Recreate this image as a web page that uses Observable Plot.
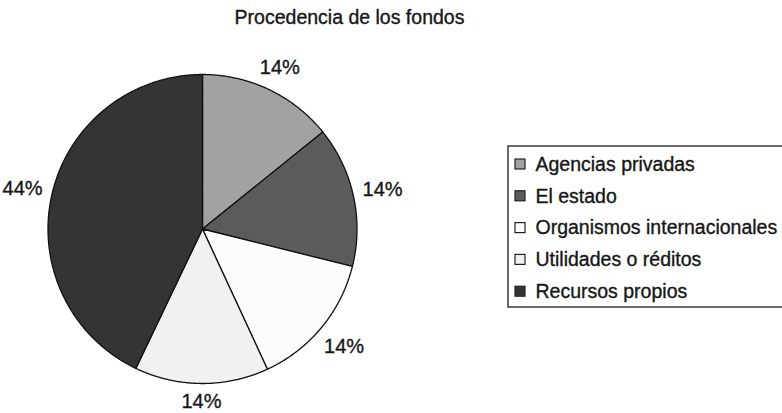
<!DOCTYPE html>
<html>
<head>
<meta charset="utf-8">
<script src="https://cdn.jsdelivr.net/npm/d3@7"></script>
<script src="https://cdn.jsdelivr.net/npm/@observablehq/plot@0.6"></script>
<style>
  html, body { margin: 0; padding: 0; background: #fff; }
  #chart svg { display: block; }
</style>
</head>
<body>
<div id="chart"></div>
<script>
// ---- data ----
const title = "Procedencia de los fondos";
const categories = ["Agencias privadas", "El estado", "Organismos internacionales", "Utilidades o réditos", "Recursos propios"];
const shares = [14.2, 14.7, 14.2, 14.0, 42.9];
const labels = ["14%", "14%", "14%", "14%", "44%"];
const fills = ["#a2a2a2", "#5b5b5b", "#fcfcfc", "#f1f1f1", "#343434"];

// ---- layout (pixels) ----
const W = 782, H = 413;
const cx = 202, cy = 228.5, R = 154.5;
const font = "'Liberation Sans', Arial, sans-serif";
const ink = "#161616";

const arcs = d3.pie().sort(null).value(d => d.share)(
  categories.map((cat, i) => ({cat, share: shares[i], label: labels[i]}))
);

// polygon points for each slice
const pts = [];
for (const a of arcs) {
  pts.push({cat: a.data.cat, x: cx, y: cy});
  const n = Math.max(2, Math.ceil((a.endAngle - a.startAngle) / (Math.PI / 360)));
  for (let k = 0; k <= n; k++) {
    const t = a.startAngle + (a.endAngle - a.startAngle) * k / n;
    pts.push({cat: a.data.cat, x: cx + R * Math.sin(t), y: cy - R * Math.cos(t)});
  }
}

// label positions outside the pie
const lab = arcs.map(a => {
  const m = (a.startAngle + a.endAngle) / 2;
  const s = Math.sin(m), c = Math.cos(m);
  const w = a.data.label.length * 12.5, h = 15;
  const r = R + 10 + (w / 2) * Math.abs(s) + (h / 2) * Math.abs(c);
  return {text: a.data.label, x: cx + r * s, y: cy - r * c};
});

// legend rows
const leg = categories.map((cat, i) => ({cat, i, yc: 164 + i * 31.8}));

const textStyle = {fill: ink, stroke: ink, strokeWidth: 0.35};

const chart = Plot.plot({
  width: W, height: H,
  margin: 0,
  x: {domain: [0, W], range: [0, W], axis: null},
  y: {domain: [0, H], range: [0, H], axis: null},
  color: {domain: categories, range: fills},
  style: {background: "#fff", fontFamily: font},
  marks: [
    Plot.line(pts, {x: "x", y: "y", z: "cat", fill: "cat", stroke: "#111", strokeWidth: 1.3, curve: "linear-closed"}),
    Plot.text(lab, {x: "x", y: "y", text: "text", fontSize: 20, textAnchor: "middle", ...textStyle}),
    Plot.text([title], {x: () => 349, y: () => 17, text: d => d, fontSize: 19.5, textAnchor: "middle", ...textStyle}),
    Plot.rect([0], {x1: () => 508, x2: () => 784, y1: () => 146, y2: () => 307, fill: "none", stroke: "#3a3a3a", strokeWidth: 1.5}),
    Plot.rect(leg, {x1: () => 515, x2: () => 525, y1: d => d.yc - 5, y2: d => d.yc + 5, fill: "cat", stroke: "#222", strokeWidth: 1.2}),
    Plot.text(leg, {x: () => 535, y: d => d.yc, text: "cat", fontSize: 19.5, textAnchor: "start", ...textStyle})
  ]
});
document.getElementById("chart").append(chart);
</script>
</body>
</html>
